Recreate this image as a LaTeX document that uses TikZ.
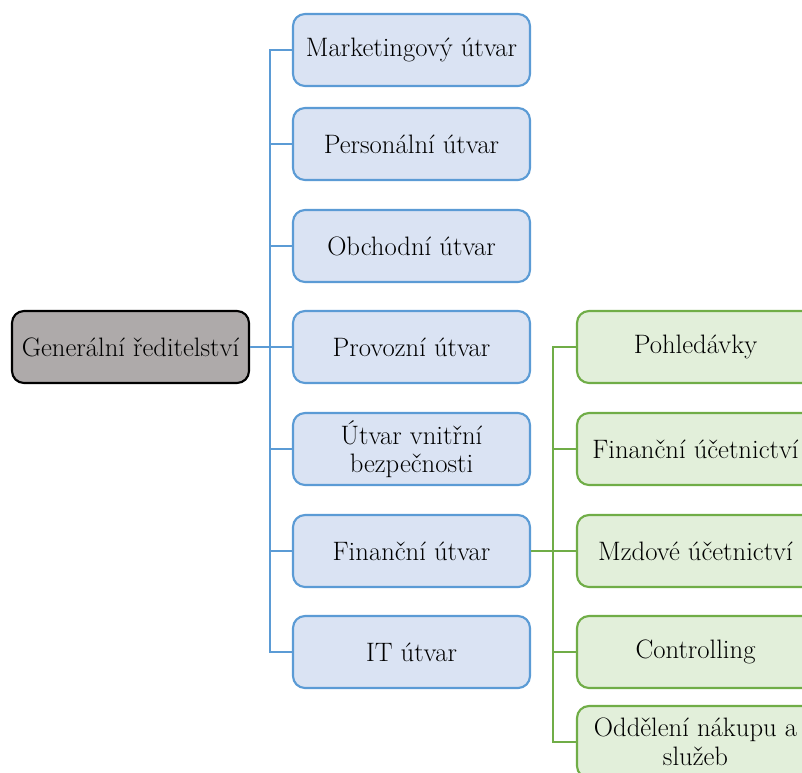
\documentclass[tikz,border=0pt]{standalone}
\definecolor{rootfill}{HTML}{AEAAAA}
\definecolor{bluefill}{HTML}{DAE3F3}
\definecolor{blueline}{HTML}{5B9BD5}
\definecolor{greenfill}{HTML}{E2EFDA}
\definecolor{greenline}{HTML}{70AD47}
\tikzset{
  unit/.style={rounded corners=9pt, line width=1.6pt, minimum width=177.75pt,
    minimum height=54pt, align=center, inner sep=2pt,
    font=\fontsize{20}{21.5}\selectfont},
  rootbox/.style={unit, draw=black, fill=rootfill},
  deptbox/.style={unit, draw=blueline, fill=bluefill},
  subbox/.style={unit, draw=greenline, fill=greenfill},
  blink/.style={draw=blueline, line width=1.6pt},
  glink/.style={draw=greenline, line width=1.6pt},
}
\begin{document}
\begin{tikzpicture}[x=0.75pt,y=-0.75pt]
\useasboundingbox (0,0) rectangle (802,772);
\clip (0,0) rectangle (802,772);

% top management
\node[rootbox] (root) at (130.5,347) {Generální ředitelství};

% departments
\node[deptbox] (mkt) at (411.5,50)  {Marketingový útvar};
\node[deptbox] (per) at (411.5,144) {Personální útvar};
\node[deptbox] (obc) at (411.5,246) {Obchodní útvar};
\node[deptbox] (pro) at (411.5,347) {Provozní útvar};
\node[deptbox] (bez) at (411.5,449) {Útvar vnitřní\\bezpečnosti};
\node[deptbox] (fin) at (411.5,551) {Finanční útvar};
\node[deptbox] (it)  at (411.5,652) {IT útvar};

% finance sub-units
\node[subbox] (poh) at (695.5,347) {Pohledávky};
\node[subbox] (fuc) at (695.5,449) {Finanční účetnictví};
\node[subbox] (mzd) at (695.5,551) {Mzdové účetnictví};
\node[subbox] (con) at (695.5,652) {Controlling};
\node[subbox] (nak) at (695.5,742) {Oddělení nákupu a\\služeb};

% department tree
\coordinate (bt) at (270,347);
\draw[blink] (root.east) -- (bt);
\foreach \n in {mkt,per,obc,pro,bez,fin,it}
  \draw[blink] (bt) |- (\n.west);

% finance tree
\coordinate (gt) at (553,551);
\draw[glink] (fin.east) -- (gt);
\foreach \n in {poh,fuc,mzd,con,nak}
  \draw[glink] (gt) |- (\n.west);
\end{tikzpicture}
\end{document}
